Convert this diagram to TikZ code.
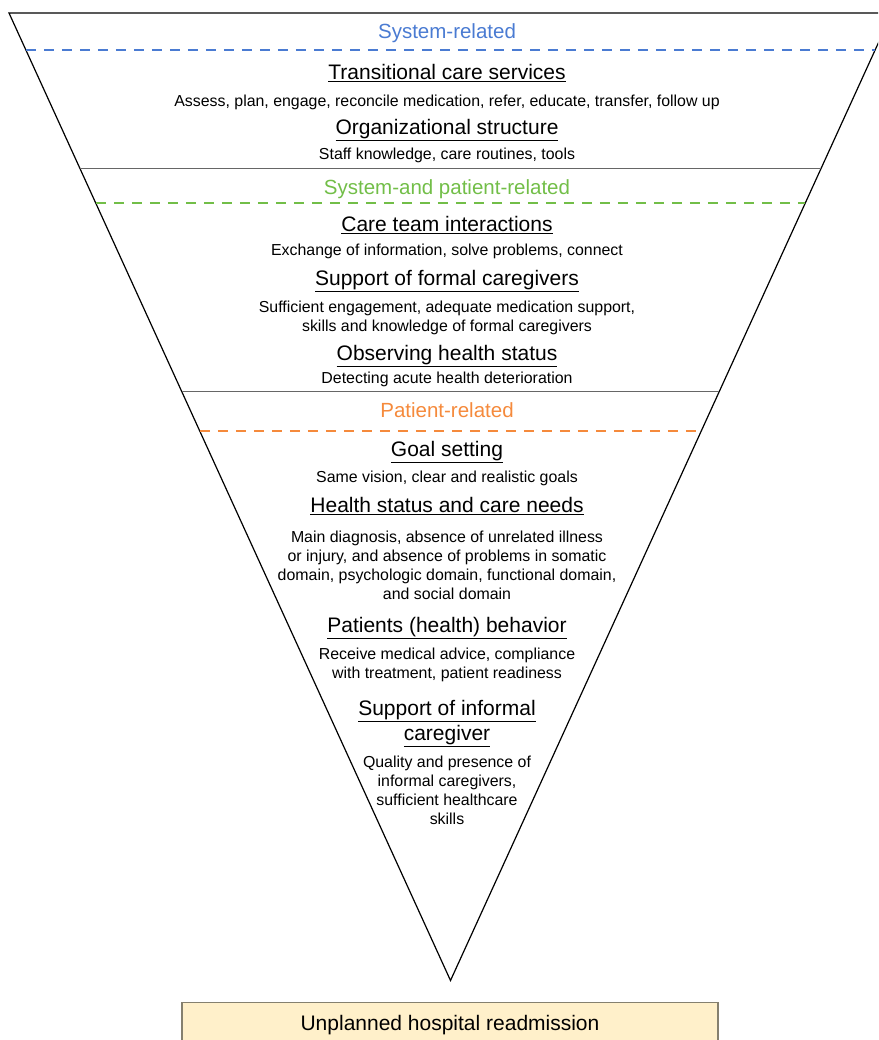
\documentclass[tikz,border=0pt]{standalone}
\usepackage{fontspec}
\setmainfont{Liberation Sans}
\usetikzlibrary{calc}
\definecolor{sysblue}{HTML}{4A7BD2}
\definecolor{mixgreen}{HTML}{72BE48}
\definecolor{patorange}{HTML}{F58A3C}
\definecolor{boxfill}{HTML}{FFF0CA}
\definecolor{boxdraw}{HTML}{85806F}

\begin{document}
\begin{tikzpicture}[x=1pt,y=-1pt,
    title/.style={font=\fontsize{21}{25}\selectfont,align=center,inner sep=0pt,anchor=base},
    desc/.style={font=\fontsize{15.9}{19}\selectfont,align=center,inner sep=0pt,anchor=base},
    group/.style={font=\fontsize{20.5}{24}\selectfont,inner sep=0pt,anchor=base},
    sepline/.style={draw=black!60,line width=1pt},
    dashline/.style={line width=2.4pt,dash pattern=on 10pt off 8pt}
  ]
    \clip (0,0) rectangle (878,1040);

    % funnel
    \coordinate (topL) at (9,13);
    \coordinate (topR) at (892,13);
    \coordinate (apex) at (450.5,980.5);
    \draw[line width=1.2pt,line join=miter] (topL) -- (topR) -- (apex) -- cycle;

    % Group: system-related
    \node[group,text=sysblue] (sys) at (447,38.5) {System-related};
    \draw[dashline,sysblue] ($(topL)!0.0383!(apex)$) -- ($(topR)!0.0383!(apex)$);
    \node[title] (tcs) at (447,79.5) {\underline{Transitional care services}};
    \node[desc] (tcsd) at (447,106.5) {Assess, plan, engage, reconcile medication, refer, educate, transfer, follow up};
    \node[title] (org) at (447,134.5) {\underline{Organizational structure}};
    \node[desc] (orgd) at (447,159.5) {Staff knowledge, care routines, tools};
    \draw[sepline] ($(topL)!0.1603!(apex)$) -- ($(topR)!0.1603!(apex)$);

    % Group: system- and patient-related
    \node[group,text=mixgreen] (mix) at (447,194.5) {System-and patient-related};
    \draw[dashline,mixgreen] ($(topL)!0.1965!(apex)$) -- ($(topR)!0.1965!(apex)$);
    \node[title] (team) at (447,231.5) {\underline{Care team interactions}};
    \node[desc] (teamd) at (447,255.5) {Exchange of information, solve problems, connect};
    \node[title] (formal) at (447,285.5) {\underline{Support of formal caregivers}};
    \node[desc] (formald) at (447,331) {Sufficient engagement, adequate medication support,\\skills and knowledge of formal caregivers};
    \node[title] (obs) at (447,360.5) {\underline{Observing health status}};
    \node[desc] (obsd) at (447,383.5) {Detecting acute health deterioration};
    \draw[sepline] ($(topL)!0.3909!(apex)$) -- ($(topR)!0.3909!(apex)$);

    % Group: patient-related
    \node[group,text=patorange] (pat) at (447,417.5) {Patient-related};
    \draw[dashline,patorange] ($(topL)!0.4323!(apex)$) -- ($(topR)!0.4323!(apex)$);
    \node[title] (goal) at (447,456) {\underline{Goal setting}};
    \node[desc] (goald) at (447,482.5) {Same vision, clear and realistic goals};
    \node[title] (needs) at (447,512.5) {\underline{Health status and care needs}};
    \node[desc] (needsd) at (447,599) {Main diagnosis, absence of unrelated illness\\or injury, and absence of problems in somatic\\domain, psychologic domain, functional domain,\\and social domain};
    \node[title] (behav) at (447,632.5) {\underline{Patients (health) behavior}};
    \node[desc] (behavd) at (447,678.5) {Receive medical advice, compliance\\with treatment, patient readiness};
    \node[title] (informal) at (447,740) {\underline{Support of informal}\\\underline{caregiver}};
    \node[desc] (informald) at (447,824.5) {Quality and presence of\\informal caregivers,\\sufficient healthcare\\skills};

    % outcome
    \node[draw=boxdraw,fill=boxfill,line width=1.5pt,font=\fontsize{21}{25}\selectfont,
      minimum width=536pt,inner sep=0pt,text height=28.5pt,text depth=30pt] (readm) at (450,1031.5) {Unplanned hospital readmission};
  \end{tikzpicture}
\end{document}
